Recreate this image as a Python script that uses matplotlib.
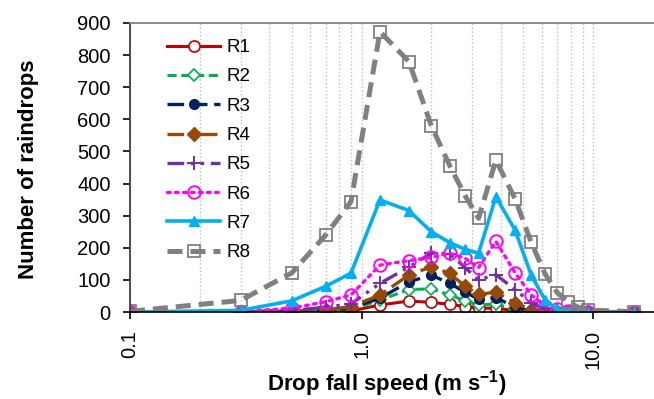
import matplotlib
matplotlib.use("Agg")
import matplotlib.pyplot as plt
from matplotlib.ticker import FixedLocator, LogLocator, NullFormatter

plt.rcParams['font.family'] = ['Liberation Sans', 'DejaVu Sans']
plt.rcParams['mathtext.fontset'] = 'custom'
plt.rcParams['mathtext.rm'] = 'Liberation Sans'
plt.rcParams['mathtext.bf'] = 'Liberation Sans:bold'

# fall speed classes (m/s)
speed = [0.1, 0.3, 0.5, 0.7, 0.9, 1.2, 1.6, 2.0, 2.4, 2.8, 3.2, 3.8, 4.6, 5.4, 6.2, 7.0, 7.8, 8.6, 9.5, 15]

r1 = [0, 0, 0, 1, 3, 22, 34, 30, 24, 17, 12, 12, 4, 1, 0, 0, 0, 0, 0, 0]
r2 = [0, 0, 1, 3, 8, 37, 70, 72, 53, 35, 22, 25, 8, 2, 1, 0, 0, 0, 0, 0]
r3 = [0, 0, 2, 4, 12, 43, 94, 115, 89, 62, 40, 45, 15, 3, 1, 0, 0, 0, 0, 0]
r4 = [0, 0, 3, 6, 17, 53, 115, 141, 120, 80, 55, 62, 28, 7, 2, 1, 0, 0, 0, 0]
r5 = [0, 1, 5, 15, 25, 89, 140, 183, 182, 138, 100, 116, 70, 28, 8, 3, 1, 0, 0, 0]
r6 = [0, 1, 12, 32, 53, 146, 160, 170, 183, 167, 138, 220, 122, 53, 20, 8, 3, 1, 0, 0]
r7 = [0, 5, 35, 80, 121, 349, 316, 250, 216, 195, 183, 359, 255, 115, 37, 8, 2, 1, 0, 0]
r8 = [2, 36, 122, 240, 344, 873, 780, 580, 456, 362, 292, 473, 352, 217, 118, 60, 32, 15, 6, 1]

fig = plt.figure(figsize=(6.54, 3.99), dpi=100)
ax = fig.add_axes([130 / 654, 1 - 312 / 399, 1 - 130 / 654, (312 - 23) / 399])

# series styles, roughly like the excel defaults used in the paper
ax.plot(speed, r1, color='#C00000', lw=2.2, ls='-', marker='o', ms=8,
        mfc='white', mew=1.2, label='R1')
ax.plot(speed, r2, color='#00B050', lw=2.2, ls=(0, (3, 1.5)), marker='D', ms=6,
        mfc='white', mew=1.2, label='R2')
ax.plot(speed, r3, color='#002060', lw=2.4, ls=(0, (5, 2)), marker='o', ms=7,
        label='R3')
ax.plot(speed, r4, color='#984807', lw=2.4, ls=(0, (5, 2, 1, 2)), marker='D', ms=7,
        label='R4')
ax.plot(speed, r5, color='#7030A0', lw=2.4, ls=(0, (5, 2, 1, 2, 1, 2)), marker='+', ms=10,
        mew=1.4, label='R5')
ax.plot(speed, r6, color='#FF00FF', lw=2.4, ls=(0, (0.8, 1.6)), marker='o', ms=9,
        mfc='none', mew=1.4, dash_capstyle='round', label='R6')
ax.plot(speed, r7, color='#00B0F0', lw=2.6, ls='-', marker='^', ms=7.5,
        label='R7')
ax.plot(speed, r8, color='#808080', lw=3.6, ls=(0, (3, 1.6)), marker='s', ms=8,
        mfc='none', mew=1.3, label='R8')

ax.set_xscale('log')
ax.set_xlim(0.1, 18.3)
ax.set_ylim(0, 900)
ax.set_yticks(range(0, 901, 100))

ax.xaxis.set_major_locator(FixedLocator([0.1, 1.0, 10.0]))
ax.set_xticklabels(['0.1', '1.0', '10.0'], rotation=90)
ax.xaxis.set_minor_locator(LogLocator(base=10, subs=range(2, 10)))
ax.xaxis.set_minor_formatter(NullFormatter())
ax.tick_params(axis='x', which='minor', length=0)
ax.tick_params(axis='both', which='major', labelsize=14.5, length=5, width=1.2,
               direction='out', pad=9)
ax.tick_params(axis='x', which='major', pad=8)
ax.grid(True, axis='x', which='both', color='#BFBFBF', ls=':', lw=1.0)
ax.set_axisbelow(True)

ax.spines['top'].set_color('#808080')
ax.spines['top'].set_linewidth(1.3)
ax.spines['right'].set_visible(False)
ax.spines['left'].set_linewidth(1.3)
ax.spines['left'].set_color('#404040')
ax.spines['bottom'].set_linewidth(1.2)

ax.set_xlabel('Drop fall speed (m s$^{\\mathbf{-1}}$)', fontsize=16, fontweight='bold')
ax.set_ylabel('Number of raindrops', fontsize=16, fontweight='bold')
ax.xaxis.set_label_coords(0.49, -0.195)
ax.yaxis.set_label_coords(-0.173, 0.495)

leg = ax.legend(loc='upper left', bbox_to_anchor=(167 / 654, 1 - 39 / 399),
                bbox_transform=fig.transFigure, frameon=False, borderpad=0,
                borderaxespad=0, fontsize=13.5, handlelength=2.85,
                labelspacing=0.65, handletextpad=0.32)

fig.savefig('out.png', dpi=100)
